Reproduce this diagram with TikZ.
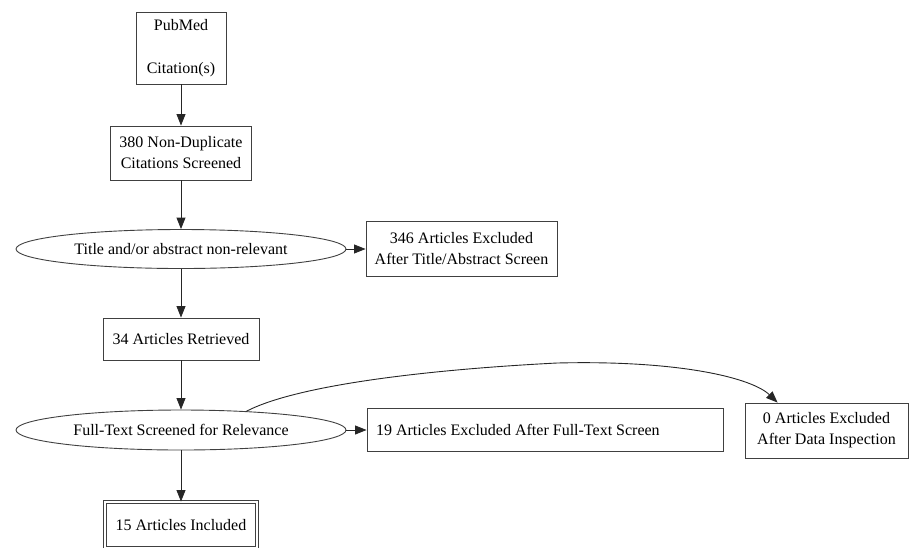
\documentclass[tikz,border=0pt]{standalone}
\usepackage{fontspec}
\setmainfont{Liberation Serif}
\usetikzlibrary{arrows.meta,shapes.geometric}

\begin{document}
\begin{tikzpicture}[
  x=1pt, y=-1pt,
  font=\fontsize{16}{21}\selectfont,
  >={Triangle[length=11.5pt,width=9pt]},
  box/.style={draw=black!75, line width=0.9pt, align=center, inner sep=0pt},
  oval/.style={draw=black!75, line width=0.9pt, ellipse, inner sep=0pt, minimum width=330pt, minimum height=39pt},
  arr/.style={->, line width=0.9pt, black!85}
]
\useasboundingbox (0,0) rectangle (909,547);
\node[box, minimum width=90pt, minimum height=72pt] (pubmed) at (181,48) {PubMed\\[22pt]Citation(s)};
\node[box, minimum width=141pt, minimum height=54pt] (nondup) at (181,153) {380 Non-Duplicate\\Citations Screened};
\node[oval] (scr1) at (181,249) {Title and/or abstract non-relevant};
\node[box, minimum width=191pt, minimum height=55pt] (excl1) at (461.5,249) {346 Articles Excluded\\After Title/Abstract Screen};
\node[box, minimum width=156pt, minimum height=42pt] (retr) at (181,339) {34 Articles Retrieved};
\node[oval, minimum height=40pt] (scr2) at (181,430) {Full-Text Screened for Relevance};
\node[box, minimum height=43pt, text width=338pt, align=left, inner xsep=9pt] (excl2) at (545,430) {\spaceskip=0.25em 19 Articles Excluded After Full-Text Screen};
\node[box, minimum width=163pt, minimum height=55pt] (excl3) at (826.5,430.5) {0 Articles Excluded\\After Data Inspection};
\node[box, double, double distance=2.4pt, minimum width=152pt, minimum height=46pt] (incl) at (181,525) {15 Articles Included};
\foreach \a/\b in {pubmed/nondup,nondup/scr1,scr1/retr,retr/scr2,scr2/incl} \draw[arr] (\a) -- (\b);
\draw[arr] (scr1) -- (excl1);
\draw[arr] (scr2) -- (excl2);
\draw[arr] (scr2.16) .. controls (295,386) and (420,370) .. (557,363) .. controls (680,360) and (752,378) .. ([xshift=33pt]excl3.north west);
\end{tikzpicture}
\end{document}
